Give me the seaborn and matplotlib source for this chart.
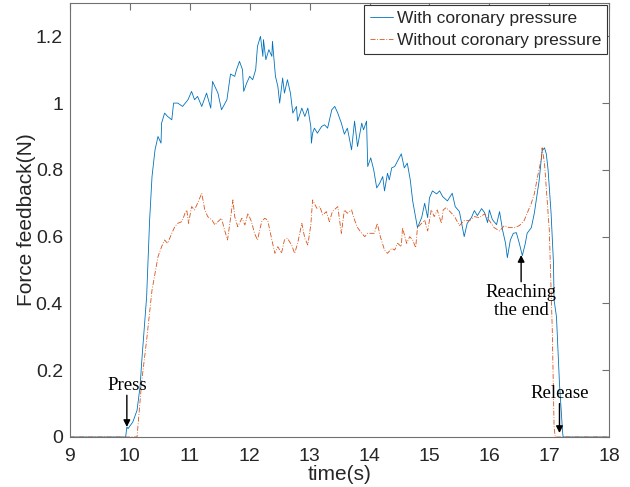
import numpy as np
import pandas as pd
import matplotlib
matplotlib.use("Agg")
import matplotlib.pyplot as plt
import seaborn as sns

# Force feedback with coronary pressure (time in s, force in N)
t_with = [
    9.00, 9.93, 9.95, 9.97, 10.05, 10.12, 10.17, 10.20, 10.28, 10.33,
    10.37, 10.42, 10.47, 10.52, 10.53, 10.58, 10.63, 10.70, 10.73, 10.80,
    10.88, 10.97, 11.03, 11.08, 11.13, 11.20, 11.28, 11.35, 11.38, 11.47,
    11.53, 11.62, 11.68, 11.75, 11.78, 11.83, 11.88, 11.90, 11.95, 12.00,
    12.05, 12.10, 12.13, 12.18, 12.22, 12.23, 12.27, 12.32, 12.37, 12.38,
    12.43, 12.47, 12.50, 12.55, 12.58, 12.63, 12.68, 12.72, 12.78, 12.80,
    12.87, 12.92, 12.97, 13.02, 13.03, 13.05, 13.08, 13.13, 13.20, 13.25,
    13.30, 13.37, 13.42, 13.47, 13.53, 13.58, 13.63, 13.70, 13.75, 13.80,
    13.87, 13.90, 13.95, 13.97, 14.02, 14.07, 14.12, 14.17, 14.22, 14.25,
    14.30, 14.33, 14.37, 14.42, 14.47, 14.53, 14.58, 14.63, 14.68, 14.72,
    14.77, 14.80, 14.87, 14.92, 14.97, 15.00, 15.05, 15.12, 15.17, 15.22,
    15.30, 15.38, 15.43, 15.50, 15.58, 15.63, 15.70, 15.75, 15.80, 15.87,
    15.92, 15.97, 16.00, 16.05, 16.12, 16.17, 16.22, 16.27, 16.30, 16.35,
    16.40, 16.45, 16.50, 16.55, 16.60, 16.63, 16.70, 16.75, 16.78, 16.83,
    16.88, 16.92, 16.95, 16.98, 17.03, 17.07, 17.08, 17.12, 17.17, 17.22,
    17.23, 18.00,
]
f_with = [
    0, 0, 0.03, 0.025, 0.045, 0.08, 0.15, 0.23, 0.42, 0.65,
    0.78, 0.86, 0.90, 0.88, 0.94, 0.97, 0.96, 0.95, 1.00, 1.00,
    0.99, 1.01, 1.035, 1.01, 1.02, 0.99, 1.03, 0.985, 1.065, 1.03,
    0.98, 1.01, 1.087, 1.08, 1.10, 1.125, 1.10, 1.035, 1.06, 1.08,
    1.07, 1.10, 1.17, 1.20, 1.14, 1.19, 1.13, 1.16, 1.14, 1.185,
    1.08, 1.05, 1.00, 1.075, 1.03, 1.07, 1.03, 0.97, 0.99, 0.946,
    0.985, 0.96, 0.985, 0.93, 0.88, 0.91, 0.925, 0.91, 0.93, 0.935,
    0.925, 0.98, 0.99, 0.97, 0.94, 0.907, 0.925, 0.86, 0.946, 0.87,
    0.94, 0.92, 0.946, 0.81, 0.836, 0.80, 0.746, 0.76, 0.78, 0.737,
    0.79, 0.77, 0.806, 0.81, 0.827, 0.848, 0.806, 0.82, 0.77, 0.707,
    0.657, 0.627, 0.657, 0.70, 0.657, 0.716, 0.737, 0.728, 0.737, 0.72,
    0.707, 0.73, 0.69, 0.675, 0.60, 0.64, 0.657, 0.678, 0.663, 0.684,
    0.672, 0.642, 0.68, 0.651, 0.636, 0.675, 0.62, 0.58, 0.537, 0.59,
    0.61, 0.612, 0.58, 0.543, 0.58, 0.61, 0.627, 0.67, 0.707, 0.767,
    0.857, 0.866, 0.848, 0.80, 0.67, 0.52, 0.41, 0.36, 0.16, 0.02,
    0, 0,
]

# Force feedback without coronary pressure
t_without = [
    9.00, 10.12, 10.20, 10.28, 10.37, 10.42, 10.47, 10.53, 10.58, 10.63,
    10.70, 10.75, 10.80, 10.87, 10.92, 10.95, 10.98, 11.03, 11.08, 11.13,
    11.20, 11.25, 11.30, 11.37, 11.42, 11.47, 11.53, 11.58, 11.63, 11.68,
    11.72, 11.75, 11.80, 11.87, 11.92, 11.97, 12.03, 12.08, 12.13, 12.20,
    12.25, 12.30, 12.37, 12.42, 12.47, 12.53, 12.58, 12.63, 12.70, 12.75,
    12.80, 12.87, 12.92, 12.97, 13.02, 13.05, 13.12, 13.17, 13.22, 13.28,
    13.33, 13.38, 13.47, 13.53, 13.58, 13.63, 13.70, 13.75, 13.80, 13.87,
    13.92, 13.97, 14.03, 14.08, 14.13, 14.18, 14.25, 14.30, 14.37, 14.42,
    14.47, 14.53, 14.55, 14.62, 14.67, 14.72, 14.77, 14.80, 14.87, 14.92,
    14.97, 15.03, 15.08, 15.13, 15.20, 15.23, 15.28, 15.37, 15.42, 15.50,
    15.58, 15.67, 15.75, 15.83, 15.92, 16.00, 16.08, 16.17, 16.25, 16.33,
    16.42, 16.50, 16.58, 16.63, 16.70, 16.75, 16.80, 16.87, 16.88, 16.92,
    17.00, 17.05, 17.08, 17.10, 18.00,
]
f_without = [
    0, 0, 0.17, 0.29, 0.44, 0.49, 0.54, 0.57, 0.59, 0.58,
    0.61, 0.63, 0.64, 0.645, 0.67, 0.68, 0.64, 0.69, 0.68, 0.70,
    0.73, 0.68, 0.66, 0.65, 0.635, 0.645, 0.655, 0.62, 0.59, 0.655,
    0.71, 0.66, 0.63, 0.655, 0.635, 0.67, 0.645, 0.61, 0.59, 0.645,
    0.655, 0.65, 0.59, 0.55, 0.57, 0.55, 0.59, 0.595, 0.575, 0.55,
    0.58, 0.64, 0.595, 0.575, 0.635, 0.71, 0.685, 0.69, 0.665, 0.675,
    0.645, 0.675, 0.69, 0.61, 0.68, 0.67, 0.68, 0.65, 0.627, 0.61,
    0.60, 0.61, 0.61, 0.61, 0.64, 0.60, 0.56, 0.55, 0.565, 0.56,
    0.58, 0.57, 0.627, 0.58, 0.60, 0.59, 0.567, 0.627, 0.64, 0.65,
    0.617, 0.68, 0.66, 0.68, 0.64, 0.68, 0.687, 0.67, 0.66, 0.633,
    0.648, 0.648, 0.66, 0.657, 0.668, 0.648, 0.627, 0.617, 0.633, 0.627,
    0.627, 0.633, 0.648, 0.67, 0.70, 0.728, 0.776, 0.836, 0.866, 0.82,
    0.62, 0.32, 0.03, 0, 0,
]

series_names = ["With coronary pressure", "Without coronary pressure"]
x_ticks = [9, 10, 11, 12, 13, 14, 15, 16, 17, 18]
y_ticks = [0, 0.2, 0.4, 0.6, 0.8, 1.0, 1.2]
y_tick_labels = ["0", "0.2", "0.4", "0.6", "0.8", "1", "1.2"]

assert len(t_with) == len(f_with)
assert len(t_without) == len(f_without)

df_with = pd.DataFrame({"time": t_with, "force": f_with})
df_without = pd.DataFrame({"time": t_without, "force": f_without})

sns.set_theme(style="white")
plt.rcParams["font.family"] = ["Liberation Sans", "DejaVu Sans"]

fig = plt.figure(figsize=(6.3, 4.87), dpi=100)
ax = fig.add_axes([0.111, 0.1027, 0.856, 0.8913])

blue = "#0072BD"
orange = "#D95319"

sns.lineplot(data=df_with, x="time", y="force", ax=ax, color=blue,
             linewidth=0.6, sort=False, label=series_names[0])
sns.lineplot(data=df_without, x="time", y="force", ax=ax, color=orange,
             linewidth=0.6, sort=False, label=series_names[1],
             linestyle=(0, (6, 2, 1, 2)))

ax.set_xlim(9, 18)
ax.set_ylim(0, 1.3)
ax.set_xticks(x_ticks)
ax.set_xticklabels([str(v) for v in x_ticks])
ax.set_yticks(y_ticks)
ax.set_yticklabels(y_tick_labels)

spine_color = "#707070"
for s in ax.spines.values():
    s.set_visible(True)
    s.set_color(spine_color)
    s.set_linewidth(0.8)

ax.tick_params(axis="both", direction="in", top=True, right=True,
               length=5, width=0.8, color=spine_color,
               labelsize=14, labelcolor="#262626")
ax.tick_params(axis="x", pad=8)
ax.tick_params(axis="y", pad=5)

ax.set_xlabel("time(s)", fontsize=15, color="#262626", labelpad=0)
ax.set_ylabel("Force feedback(N)", fontsize=15, color="#262626", labelpad=0)

leg = ax.legend(loc="upper right", fontsize=12.5, frameon=True, fancybox=False,
                edgecolor="#333333", framealpha=1, borderpad=0.35,
                handlelength=1.35, handletextpad=0.2, labelspacing=0.4,
                borderaxespad=0.12)
leg.get_frame().set_linewidth(0.8)

serif = ["Liberation Serif", "DejaVu Serif"]
arrow = dict(arrowstyle="-|>", color="black", lw=1.0, mutation_scale=10,
             shrinkA=0, shrinkB=0)

ax.text(9.95, 0.155, "Press", family=serif, fontsize=13.5,
        ha="center", va="center", color="black")
ax.annotate("", xy=(9.95, 0.03), xytext=(9.95, 0.125), arrowprops=arrow)

ax.text(16.53, 0.405, "Reaching\nthe end", family=serif, fontsize=13.5,
        ha="center", va="center", color="black", linespacing=1.05)
ax.annotate("", xy=(16.53, 0.545), xytext=(16.53, 0.465), arrowprops=arrow)

ax.text(17.17, 0.13, "Release", family=serif, fontsize=13.5,
        ha="center", va="center", color="black")
ax.annotate("", xy=(17.17, 0.012), xytext=(17.17, 0.10), arrowprops=arrow)

fig.savefig("out.png", dpi=100)
